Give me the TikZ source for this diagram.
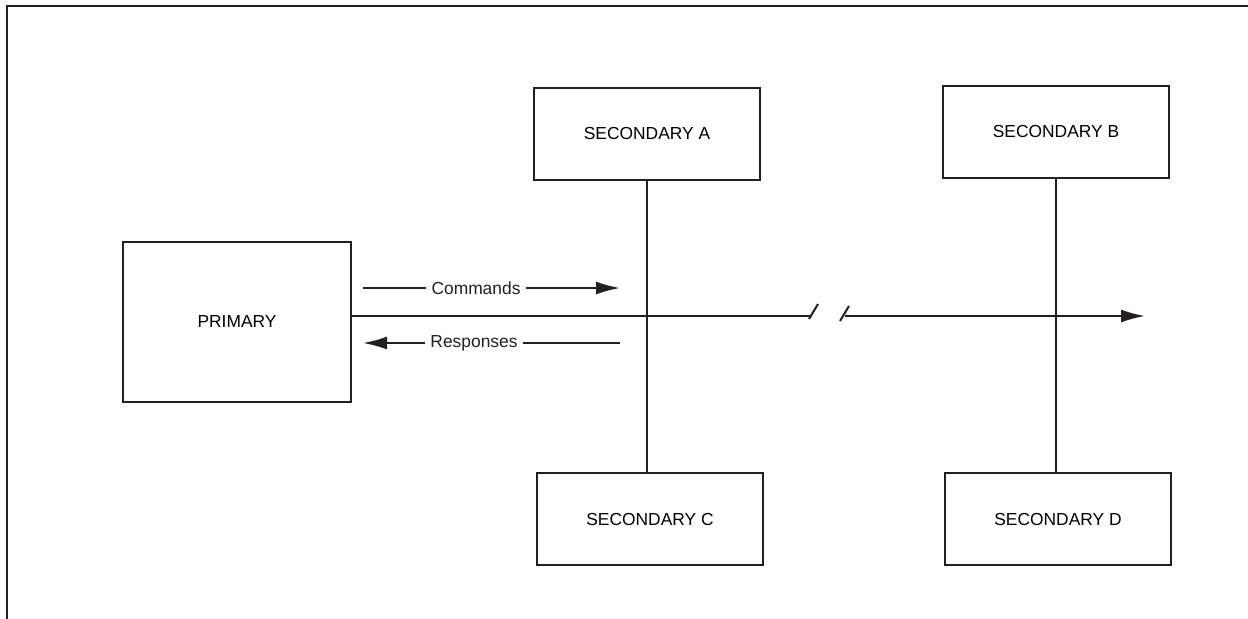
\documentclass[tikz,border=0pt]{standalone}
\usepackage{fontspec}
\setmainfont{Liberation Sans}
\usepackage{tikz}
\usetikzlibrary{arrows.meta,positioning,calc}
\definecolor{Ink}{HTML}{231F20}
\tikzset{
  box/.style={draw=Ink,line width=0.9pt,align=center,inner sep=0pt,
              minimum width=113pt,minimum height=46pt,font=\fontsize{8.7}{10}\selectfont},
  bigbox/.style={box,minimum width=114pt,minimum height=80pt},
  label/.style={inner sep=2.5pt,font=\fontsize{8.7}{10}\selectfont,text=Ink},
  wire/.style={draw=Ink,line width=1pt},
  flow/.style={wire,-{Latex[length=12pt,width=6.5pt]}},
  frame/.style={draw=Ink,line width=1.3pt}
}
\begin{document}
\begin{tikzpicture}[x=0.5pt,y=-0.5pt]
  \useasboundingbox (0,0) rectangle (1248,618);
  % outer frame, cut off at right and bottom
  \coordinate (frTL) at (7,6);
  \coordinate (frTR) at (1250,6);
  \coordinate (frBL) at (7,620);
  \draw[frame] (frTR) -- (frTL) -- (frBL);

  \node[bigbox] (prim) at (237,322) {PRIMARY};
  \node[box] (secA) at (647,134) {SECONDARY A};
  \node[box] (secB) at (1056,132) {SECONDARY B};
  \node[box] (secC) at (650,519) {SECONDARY C};
  \node[box] (secD) at (1058,519) {SECONDARY D};

  % drops to the bus
  \draw[wire] (secA.south) -- (secA.south |- secC.north);
  \draw[wire] (secB.south) -- (secB.south |- secD.north);

  % bus with break
  \coordinate (brkL) at (812,316);
  \coordinate (brkR) at (845,316);
  \coordinate (busEnd) at (1145,316);
  \draw[wire] (prim.east |- brkL) -- (brkL);
  \draw[wire] ($(brkL)+(-3,3)$) -- ($(brkL)+(6,-12)$);
  \draw[wire] ($(brkR)+(-5,5)$) -- ($(brkR)+(4,-10)$);
  \draw[flow] (brkR) -- (busEnd);

  % direction labels
  \node[label] (cmd) at (476,288) {Commands};
  \coordinate (cmdL) at (363,288);
  \coordinate (cmdR) at (620,288);
  \draw[wire] (cmdL) -- (cmd);
  \draw[flow] (cmd) -- (cmdR);

  \node[label] (rsp) at (474,343) {Responses};
  \coordinate (rspL) at (363,343);
  \coordinate (rspR) at (620,343);
  \draw[flow] (rsp) -- (rspL);
  \draw[wire] (rsp) -- (rspR);
\end{tikzpicture}
\end{document}
